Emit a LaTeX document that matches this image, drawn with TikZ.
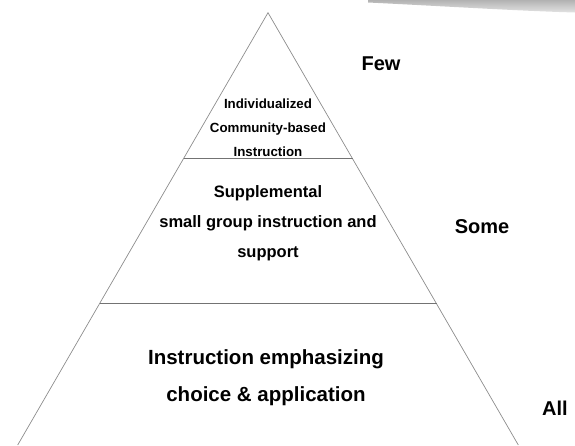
\documentclass[tikz,border=0pt]{standalone}
\usepackage{fontspec}
\setmainfont{Liberation Sans}
\begin{document}
\begin{tikzpicture}[x=1pt,y=-1pt,
  edge/.style={draw=gray!90, line width=0.7pt},
  divider/.style={draw=gray!90!black, line width=1pt},
  tiertext/.style={align=center, font=\bfseries, inner sep=0pt},
  sidelabel/.style={font=\bfseries\fontsize{20}{24}\selectfont, inner sep=0pt}]
\useasboundingbox (0,0) rectangle (575,445);
% gray band at top right
\shade[top color=gray!60, bottom color=gray!22]
  (368,0) -- (575,0) -- (575,12.5) .. controls (520,11) and (440,6) .. (368,2.5) -- cycle;
% triangle corners
\coordinate (apex) at (268,12.7);
\coordinate (bl) at (17.7,445);
\coordinate (br) at (518.3,445);
\coordinate (d1l) at (184,158);
\coordinate (d1r) at (352.5,158);
\coordinate (d2l) at (100,303);
\coordinate (d2r) at (436.5,303);
\draw[edge] (bl) -- (apex) -- (br);
\draw[divider] (d1l) -- (d1r);
\draw[divider] (d2l) -- (d2r);
% tier texts
\node[tiertext, font=\bfseries\fontsize{13.3}{24}\selectfont] (top) at (268,128)
  {Individualized\\Community-based\\Instruction};
\node[tiertext, font=\bfseries\fontsize{16.5}{30}\selectfont] (mid) at (268,223)
  {Supplemental\\small group instruction and\\support};
\node[tiertext, font=\bfseries\fontsize{20.5}{37}\selectfont] (bot) at (266,378)
  {Instruction emphasizing\\choice \& application};
% side labels
\node[sidelabel] (few) at (381,64) {Few};
\node[sidelabel] (some) at (482,227) {Some};
\node[sidelabel] (all) at (555,408) {All};
\end{tikzpicture}
\end{document}
